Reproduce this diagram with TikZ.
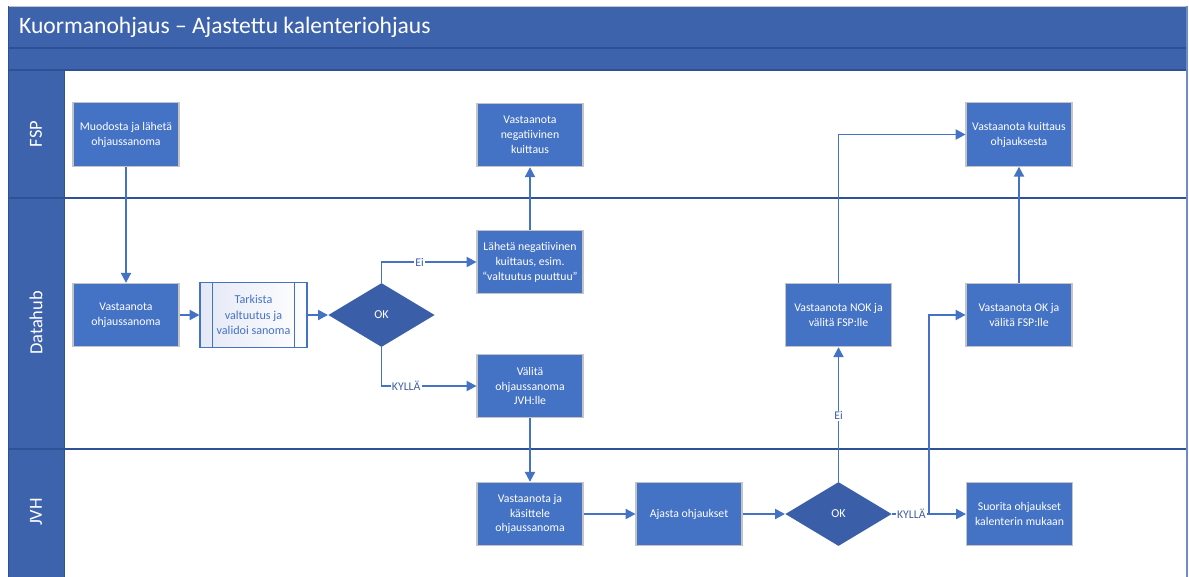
\documentclass[tikz,border=0pt]{standalone}
\usepackage{fontspec}
\setmainfont{Carlito}
\usetikzlibrary{shapes.geometric,arrows.meta}
\definecolor{hdr}{RGB}{62,99,173}
\definecolor{hdrline}{RGB}{48,80,148}
\definecolor{boxfill}{RGB}{68,114,196}
\definecolor{boxline}{RGB}{196,196,196}
\definecolor{decfill}{RGB}{58,94,168}
\definecolor{conn}{RGB}{68,114,196}
\definecolor{lanesep}{RGB}{47,82,150}
\definecolor{lbltext}{RGB}{64,96,166}
\definecolor{subtint}{RGB}{228,232,246}
\definecolor{rimblue}{RGB}{110,140,200}
\begin{document}
\begin{tikzpicture}[x=0.02cm,y=-0.02cm,
  proc/.style={draw=boxline,line width=0.6pt,fill=boxfill,text=white,
    minimum width=2.12cm,minimum height=1.27cm,inner sep=0pt,align=center,
    font=\fontsize{6.7}{8.5}\selectfont},
  subproc/.style={draw=conn,line width=0.6pt,left color=subtint,right color=white,
    text=boxfill,minimum width=2.14cm,minimum height=1.29cm,inner sep=0pt,align=center,
    font=\fontsize{6.9}{8.7}\selectfont},
  decision/.style={diamond,fill=decfill,text=white,minimum width=2.13cm,minimum height=1.28cm,
    inner sep=0pt,font=\fontsize{6.9}{8}\selectfont},
  flow/.style={draw=conn,line width=0.75pt,-{Triangle[length=5.6pt,width=5.8pt]}},
  lbl/.style={fill=white,text=lbltext,inner sep=0.6pt,font=\fontsize{6.7}{7}\selectfont},
  lanename/.style={rotate=90,text=white,font=\fontsize{10.5}{12}\selectfont}]
\useasboundingbox (0,0) rectangle (1189,576);
\clip (0,0) rectangle (1189,576);
\fill[white] (0,0) rectangle (1189,576);

% header bars and lane label column
\fill[hdr] (8,6) rectangle (1187,70);
\fill[hdr] (8,70) rectangle (64,590);
\draw[hdrline,line width=0.6pt] (8,48) -- (1187,48);
\draw[hdrline,line width=0.6pt] (8,70) -- (1187,70);
\draw[hdrline,line width=0.5pt] (64,70) -- (64,590);
\node[anchor=west,text=white,font=\fontsize{13.4}{16}\selectfont] (title) at (13,27) {Kuormanohjaus – Ajastettu kalenteriohjaus};

% lane separators and frame
\draw[lanesep,line width=0.8pt] (8,198) -- (1187,198);
\draw[lanesep,line width=0.8pt] (8,449) -- (1187,449);
\draw[boxline,line width=0.5pt] (8,6) -- (1187,6);
\draw[rimblue,line width=0.9pt] (1187,6) -- (1187,590);
\draw[hdrline,line width=0.5pt] (8,6) -- (8,590);

\node[lanename] (lfsp) at (36,134) {FSP};
\node[lanename] (ldh) at (36,323) {Datahub};
\node[lanename] (ljvh) at (36,512) {JVH};

% FSP lane
\node[proc] (muod) at (126,134.5) {Muodosta ja lähetä\\ohjaussanoma};
\node[proc] (negk) at (530,135) {Vastaanota\\negatiivinen\\kuittaus};
\node[proc] (kuit) at (1019,134.5) {Vastaanota kuittaus\\ohjauksesta};

% Datahub lane
\node[proc] (vast) at (126,315) {Vastaanota\\ohjaussanoma};
\node[subproc] (tark) at (253.5,315) {Tarkista\\valtuutus ja\\validoi sanoma};
\draw[conn,line width=0.6pt] ([xshift=0.26cm]tark.north west) -- ([xshift=0.26cm]tark.south west);
\draw[conn,line width=0.6pt] ([xshift=-0.26cm]tark.north east) -- ([xshift=-0.26cm]tark.south east);
\node[decision] (ok1) at (381.5,315) {OK};
\node[proc] (lah) at (530,262) {Lähetä negatiivinen\\kuittaus, esim.\\“valtuutus puuttuu”};
\node[proc] (val) at (530,386) {Välitä\\ohjaussanoma\\JVH:lle};
\node[proc] (nok) at (838.5,315) {Vastaanota NOK ja\\välitä FSP:lle};
\node[proc] (vok) at (1019,315) {Vastaanota OK ja\\välitä FSP:lle};

% JVH lane
\node[proc] (kas) at (530,514) {Vastaanota ja\\käsittele\\ohjaussanoma};
\node[proc] (ajas) at (689,514) {Ajasta ohjaukset};
\node[decision] (ok2) at (838.5,514) {OK};
\node[proc] (suor) at (1019.5,514) {Suorita ohjaukset\\kalenterin mukaan};

% connectors
\draw[flow] (muod.south) -- (vast.north);
\draw[flow] (vast.east) -- (tark.west);
\draw[flow] (tark.east) -- (ok1.west);
\draw[flow] (ok1.north) |- node[lbl,pos=0.7] {Ei} (lah.west);
\draw[flow] (ok1.south) |- node[lbl,pos=0.63] {KYLLÄ} (val.west);
\draw[flow] (lah.north) -- (negk.south);
\draw[flow] (val.south) -- (kas.north);
\draw[flow] (kas.east) -- (ajas.west);
\draw[flow] (ajas.east) -- (ok2.west);
\draw[flow] (ok2.north) -- node[lbl,pos=0.49] {Ei} (nok.south);
\coordinate (split) at (929,514);
\draw[flow] (split) |- (vok.west);
\draw[flow] (ok2.east) -- node[lbl,pos=0.26] {KYLLÄ} (suor.west);
\draw[flow] (nok.north) |- (kuit.west);
\draw[flow] (vok.north) -- (kuit.south);
\end{tikzpicture}
\end{document}
